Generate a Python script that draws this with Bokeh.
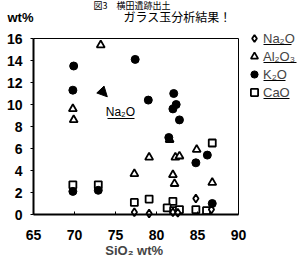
from bokeh.plotting import figure
from bokeh.models import (Label, Legend, LegendItem, Range1d, Arrow, NormalHead,
                          FixedTicker, LinearAxis)
from bokeh.embed import file_html
from bokeh.resources import INLINE

# ---- data ----
na2o_x = [77.3, 79.1, 82.0, 82.6, 84.8, 86.7]
na2o_y = [0.2, 0.1, 0.2, 0.15, 1.45, 0.45]

al2o3_x = [69.8, 69.9, 73.2, 77.3, 79.1, 81.6, 82.0, 82.2, 82.3, 82.8, 84.9, 86.8]
al2o3_y = [9.6, 8.6, 15.4, 3.7, 5.2, 6.8, 3.6, 2.8, 5.2, 5.3, 5.9, 2.9]

k2o_x = [69.9, 69.8, 77.4, 79.0, 82.1, 82.4, 82.0, 82.8, 81.5, 84.8, 86.2, 86.8, 69.8, 72.9]
k2o_y = [13.5, 11.3, 14.1, 10.4, 11.0, 10.0, 9.6, 8.6, 7.0, 4.7, 5.4, 1.0, 2.1, 2.2]

cao_x = [69.8, 72.9, 77.3, 79.1, 82.0, 81.3, 82.1, 82.8, 84.8, 86.1, 86.8]
cao_y = [2.7, 2.7, 1.1, 1.4, 1.2, 0.6, 0.35, 0.45, 0.45, 0.35, 6.5]

x_ticks = [65, 70, 75, 80, 85, 90]
y_ticks = [0, 2, 4, 6, 8, 10, 12, 14, 16]

series_names = ["Na\u2082O", "Al\u2082O\u2083", "K\u2082O", "CaO"]
title_line1 = "図3　横田遺跡出土"
title_line2 = "ガラス玉分析結果！"
y_unit = "wt%"
x_label = "SiO\u2082  wt%"

X0, X1 = 65, 90     # plotted x span (box)
Y0, Y1 = 0, 16      # plotted y span (box)

# ---- layout geometry (pixels of the canvas) ----
W, H = 299, 259
PX_LEFT, PX_RIGHT = 33, 238      # canvas x of x=65 and x=90
PY_BOTTOM, PY_TOP = 214, 38      # canvas y (from top) of y=0 and y=16
sx = (PX_RIGHT - PX_LEFT) / (X1 - X0)
sy = (PY_BOTTOM - PY_TOP) / (Y1 - Y0)
x_range = Range1d(X0 - PX_LEFT / sx, X1 + (W - PX_RIGHT) / sx)
y_range = Range1d(Y0 - (H - PY_BOTTOM) / sy, Y1 + PY_TOP / sy)


def dx(px):
    return X0 + (px - PX_LEFT) / sx


def dy(py):
    return Y0 + (PY_BOTTOM - py) / sy


p = figure(width=W, height=H, output_backend="svg", toolbar_location=None,
           x_range=x_range, y_range=y_range,
           x_axis_location=None, y_axis_location=None,
           min_border=0, min_border_left=0, min_border_right=0,
           min_border_top=0, min_border_bottom=0)
p.grid.visible = False
p.outline_line_color = None
p.background_fill_color = "white"

TF = "Liberation Sans"
xaxis = LinearAxis(fixed_location=Y0, bounds=(X0, X1), ticker=FixedTicker(ticks=x_ticks))
yaxis = LinearAxis(fixed_location=X0, bounds=(Y0, Y1), ticker=FixedTicker(ticks=y_ticks))
for ax in (xaxis, yaxis):
    ax.axis_line_width = 2
    ax.axis_line_color = "black"
    ax.major_label_text_font = TF
    ax.major_label_text_font_style = "bold"
    ax.major_label_text_font_size = "14px"
    ax.major_label_text_color = "black"
    ax.minor_tick_line_color = None
    ax.major_tick_line_color = "black"
xaxis.major_tick_in = 3
xaxis.major_tick_out = 0
xaxis.major_label_standoff = 15
yaxis.major_tick_in = 0
yaxis.major_tick_out = 3
yaxis.major_label_standoff = 8
xaxis.axis_label = x_label
xaxis.axis_label_text_font = TF
xaxis.axis_label_text_font_style = "bold"
xaxis.axis_label_text_font_size = "13px"
xaxis.axis_label_standoff = 0
p.add_layout(xaxis, "below")
p.add_layout(yaxis, "left")

# thin top and right edges of the box
p.segment(x0=[X0, X1], y0=[Y1, Y0], x1=[X1, X1], y1=[Y1, Y1], line_color="black", line_width=1)

lw = 1.8
r_al = p.scatter(al2o3_x, al2o3_y, marker="triangle", size=8, fill_color="white",
                 line_color="black", line_width=lw)
r_ca = p.scatter(cao_x, cao_y, marker="square", size=7, fill_color="white",
                 line_color="black", line_width=lw)
r_k = p.scatter(k2o_x, k2o_y, marker="circle", size=8, fill_color="black",
                line_color="black", line_width=1)
r_na = p.scatter(na2o_x, na2o_y, marker="diamond", size=8, fill_color="white",
                 line_color="black", line_width=lw)

# in-plot annotation (arrow + underlined label)
p.add_layout(Arrow(x_start=72.6, y_start=11.8, x_end=74.0, y_end=10.7,
                   line_alpha=0, end=NormalHead(size=10, fill_color="black", line_color="black")))
p.add_layout(Label(x=75.6, y=9.3, text=series_names[0], text_font=TF, text_font_size="12px",
                   text_align="center", text_baseline="middle", text_color="black"))
p.segment(x0=[dx(107)], y0=[dy(118)], x1=[dx(134)], y1=[dy(118)], line_color="black", line_width=1)

# top texts
p.add_layout(Label(x=dx(93), y=dy(4.5), text=title_line1, text_font="Noto Sans CJK JP",
                   text_font_size="9px", text_baseline="middle", text_color="black"))
p.add_layout(Label(x=dx(123), y=dy(16), text=title_line2, text_font="Noto Sans CJK JP",
                   text_font_size="12px", text_baseline="middle", text_color="black"))
p.add_layout(Label(x=dx(7), y=dy(17), text=y_unit, text_font=TF, text_font_style="bold",
                   text_font_size="13px", text_baseline="middle", text_color="black"))

# legend (right of the box)
legend = Legend(items=[LegendItem(label=series_names[0], renderers=[r_na]),
                       LegendItem(label=series_names[1], renderers=[r_al]),
                       LegendItem(label=series_names[2], renderers=[r_k]),
                       LegendItem(label=series_names[3], renderers=[r_ca])],
                location=(245, H - 101), border_line_color=None, background_fill_alpha=0,
                padding=0, margin=0, spacing=0, glyph_width=18, glyph_height=18,
                label_height=18, label_standoff=0, label_text_font=TF,
                label_text_font_size="13px")
p.add_layout(legend)
# underlines under legend labels
ul_left = [263, 263, 263, 263]
ul_right = [291, 296, 285, 289]
ul_py = [44, 62, 80, 98]
p.segment(x0=[dx(v) for v in ul_left], y0=[dy(v) for v in ul_py],
          x1=[dx(v) for v in ul_right], y1=[dy(v) for v in ul_py],
          line_color="black", line_width=1)

open("out.html", "w").write(file_html(p, INLINE))
